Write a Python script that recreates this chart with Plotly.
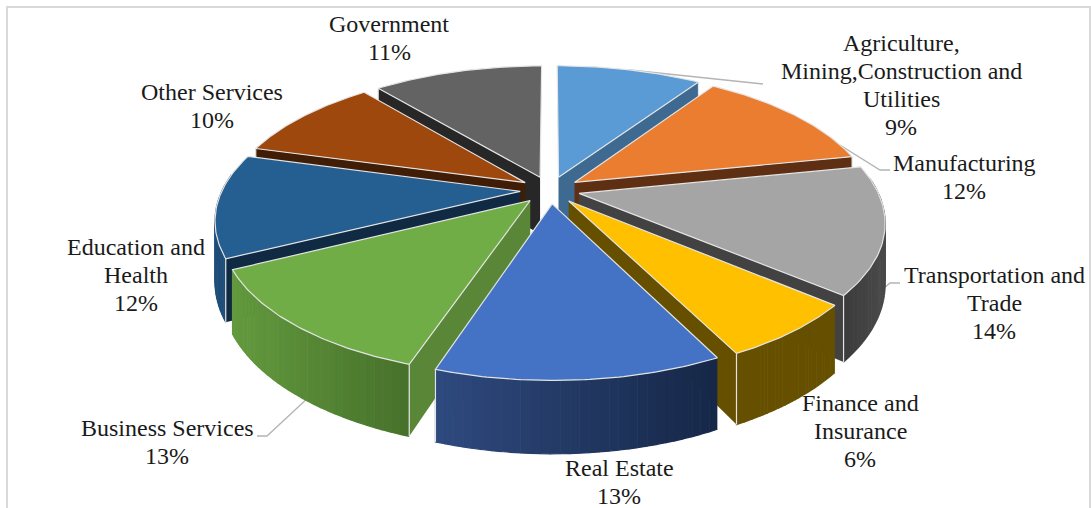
import numpy as np
import plotly.graph_objects as go

categories = ["Agriculture,<br>Mining,Construction and<br>Utilities", "Manufacturing",
              "Transportation and<br>Trade", "Finance and<br>Insurance", "Real Estate",
              "Business Services", "Education and<br>Health", "Other Services", "Government"]
shares = [9.4, 12.4, 14.4, 6.4, 12.5, 12.5, 11.7, 9.7, 11.0]

# styles
top_colors = ["#5B9BD5", "#EB7D31", "#A5A5A5", "#FFC000", "#4472C4", "#70AD47", "#255E91", "#9E480E", "#636363"]
rim_from = ["#3E6A92", "#5E2F12", "#3A3A3A", "#665000", "#2F4A80", "#639A3E", "#1F4E79", "#3F1D06", "#272727"]
rim_to = ["#3E6A92", "#5E2F12", "#4A4A4A", "#665000", "#162848", "#47722B", "#1F4E79", "#3F1D06", "#272727"]
cut_colors = ["#3E6A92", "#5E2F12", "#424242", "#665000", "#1A2C50", "#5A8638", "#0F2A42", "#3F1D06", "#272727"]
explode = [0.10, 0.10, 0.10, 0.10, 0.10, 0.10, 0.10, 0.10, 0.10]
radius = [1.0, 1.0, 1.0, 1.0, 1.0, 1.0, 1.0, 1.0, 1.0]
label_xy = [(901, 85), (964, 177), (994, 303), (860, 431), (619, 482), (167, 442), (136, 275), (212, 106), (389, 38)]
leaders = [[(630, 70), (763, 84)], [(795, 117), (880, 170), (890, 170)], [(870, 300), (890, 283), (900, 283)],
           [(310, 396), (267, 436), (257, 436)]]
paint_order = [8, 0, 7, 1, 6, 2, 5, 3, 4]

CX, CY, A, B, K, H = 550, 190, 137, 298, 0.19, 58
LINE_STEP = 28


def project(X, Y, drop=False):
    X, Y = np.asarray(X, float), np.asarray(Y, float)
    s = 1 / (1 + K * Y)
    return CX + B * X * s, CY - A * Y * s + (H * s if drop else 0)


def hex2rgb(c):
    return np.array([int(c[i:i + 2], 16) for i in (1, 3, 5)], float)


def blend(a, b, t):
    v = hex2rgb(a) * (1 - t) + hex2rgb(b) * t
    return f"rgb({v[0]:.0f},{v[1]:.0f},{v[2]:.0f})"


fig = go.Figure()


def poly(x, y, fill, line="rgba(0,0,0,0)", w=0):
    fig.add_trace(go.Scatter(x=list(x), y=list(y), mode="lines", fill="toself", fillcolor=fill,
                             line=dict(color=line, width=w), hoverinfo="skip", showlegend=False))


for seg in leaders:
    fig.add_trace(go.Scatter(x=[p[0] for p in seg], y=[p[1] for p in seg], mode="lines",
                             line=dict(color="#B4B4B4", width=1.3), hoverinfo="skip", showlegend=False))

edges = np.cumsum([0] + shares) / sum(shares) * 2 * np.pi
EDGE = "#E4E4E4"
for i in paint_order:
    t0, t1 = edges[i], edges[i + 1]
    tm = (t0 + t1) / 2
    tx, ty = explode[i] * np.sin(tm), explode[i] * np.cos(tm)
    th = np.linspace(t0, t1, 61)
    X = tx + radius[i] * np.sin(th)
    Y = ty + radius[i] * np.cos(th)
    # radial wall facing the viewer
    j = -1 if tm < np.pi else 0
    rx, ry = [tx, X[j]], [ty, Y[j]]
    px, py = project(rx, ry)
    qx, qy = project(rx, ry, True)
    poly(list(px) + list(qx[::-1]), list(py) + list(qy[::-1]), cut_colors[i])
    # rim, as shaded strips, only where it faces forward
    ux, uy = project(X, Y)
    vx, vy = project(X, Y, True)
    for n in range(0, len(th) - 2, 2):
        if np.cos(th[n + 1]) < 0.12:
            f = blend(rim_from[i], rim_to[i], (ux[n] - ux.min()) / max(1, ux.max() - ux.min()))
            poly([ux[n], ux[n + 2], vx[n + 2], vx[n]], [uy[n], uy[n + 2], vy[n + 2], vy[n]], f, f, 1.2)
    # vertical edge at the visible corner
    fig.add_trace(go.Scatter(x=[ux[j], vx[j]], y=[uy[j], vy[j]], mode="lines",
                             line=dict(color=EDGE, width=1.2), hoverinfo="skip", showlegend=False))
    # top face
    ax, ay = project(tx, ty)
    poly([float(ax)] + list(ux) + [float(ax)], [float(ay)] + list(uy) + [float(ay)], top_colors[i], EDGE, 1.2)

annotations = []
for c, s, p in zip(categories, shares, label_xy):
    lines = c.split("<br>") + [f"{int(s + 0.5)}%"]
    for k, line in enumerate(lines):
        annotations.append(dict(x=p[0], y=p[1] + (k - (len(lines) - 1) / 2) * LINE_STEP, xref="x", yref="y",
                                text=line, showarrow=False, xanchor="center", yanchor="middle",
                                font=dict(family="Liberation Serif", size=24, color="#1a1a1a")))

fig.update_layout(width=1091, height=508, autosize=False, margin=dict(l=0, r=0, t=0, b=0),
                  paper_bgcolor="white", plot_bgcolor="white", annotations=annotations,
                  xaxis=dict(range=[0, 1091], visible=False, fixedrange=True),
                  yaxis=dict(range=[508, 0], visible=False, fixedrange=True),
                  shapes=[dict(type="rect", xref="x", yref="y", x0=7, y0=7, x1=1090, y1=520,
                               line=dict(color="#D9D9D9", width=2), layer="below")])
fig.write_html("out.html", config=dict(displayModeBar=False),
               post_script="document.body.style.margin='0';document.body.style.overflow='hidden';")
